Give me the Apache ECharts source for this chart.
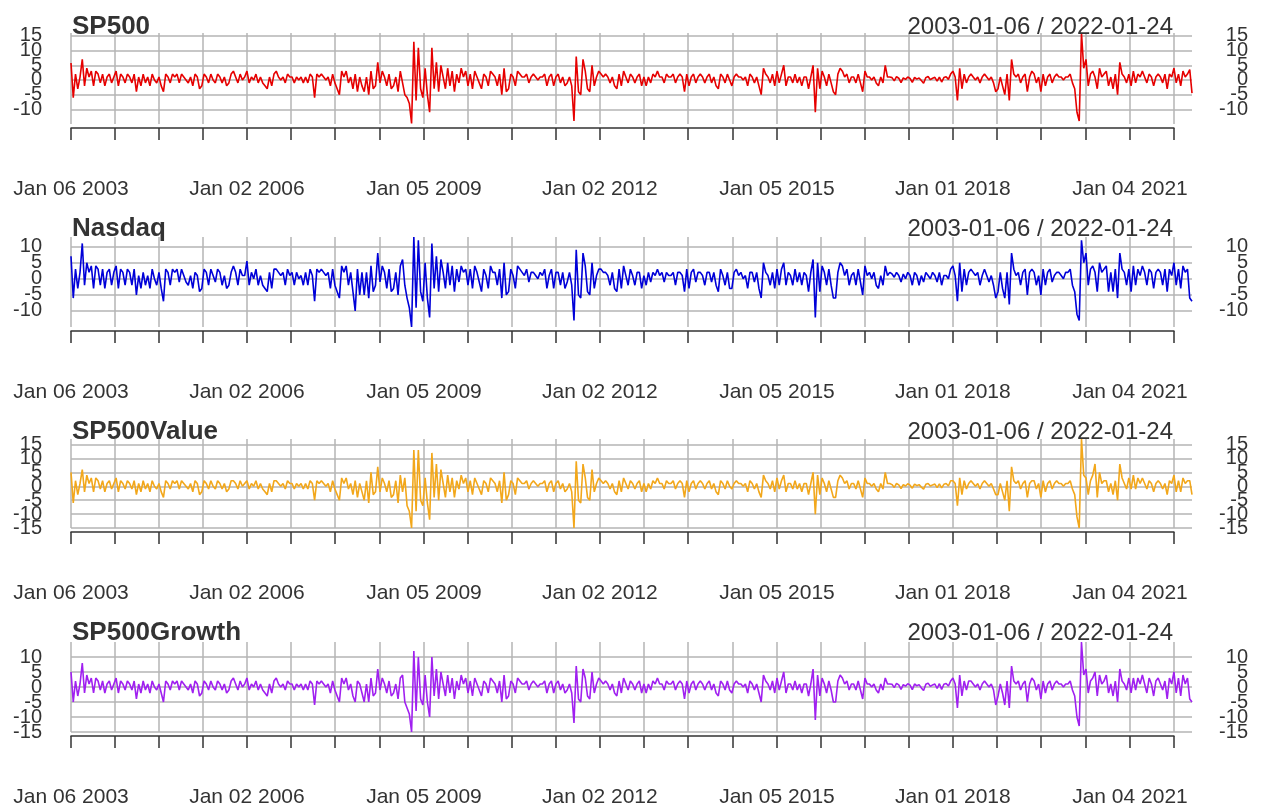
<!DOCTYPE html>
<html>
<head>
<meta charset="utf-8">
<script src="https://cdn.jsdelivr.net/npm/echarts@6/dist/echarts.min.js"></script>
<style>html,body{margin:0;padding:0;background:#fff}#chart{width:1265px;height:808px}</style>
</head>
<body>
<div id="chart"></div>
<script>
// ---------------- data ----------------
const startDate = '2003-01-06';
const endDate = '2022-01-24';
const stepWeeks = 2; // one value every two weeks
const seriesNames = ['SP500', 'Nasdaq', 'SP500Value', 'SP500Growth'];

const sp500 = [
 5.8,-6,2,-3,1,7,-2,4,1,3,-2,3,2,-1,2,-2,1,2,-1,1,3,-2,2,1,-1,2,
 1,-1,2,-4,1,-2,2,-1,1,-2,2,0,-1,1,-2,-4,2,1,-1,2,1,2,-1,2,1,0,
 -1,1,-2,2,1,-3,-2,2,1,-1,2,0,-1,2,1,-1,1,-2,-1,2,3,1,-1,2,0,1,
 3,-1,1,0,2,-1,1,-1,-2,-3,1,-2,2,3,1,0,1,-1,2,1,1,-1,1,0,1,-1,
 1,-1,2,1,-6,2,1,2,1,0,1,-2,2,-1,-3,-5,3,1,3,-1,1,-3,2,-4,1,-2,
 -4,1,-5,3,-3,-2,6,-1,3,1,-2,2,-3,-2,1,-4,3,-1,-5,-6,-8,-14.8,13,-7,11,-3,
 -6,4,-5,-11,11,-3,6,-4,5,1,-3,4,-2,3,-4,2,-1,4,1,3,-2,2,-3,3,1,-1,
 -3,2,1,-2,3,2,1,-2,2,-5,4,-4,-3,2,1,-2,3,2,1,1,2,-1,1,2,1,0,
 1,1,2,-2,1,2,-2,1,2,-1,1,-2,-1,1,-2,-14,8,-4,-5,7,3,-3,-4,5,-2,1,
 3,2,1,2,1,-1,1,-2,-3,2,-2,3,1,-1,2,1,-1,1,2,-2,1,-2,1,-1,2,1,
 3,1,1,-1,2,1,1,2,-1,1,2,1,-4,2,-2,1,2,-1,1,2,1,-1,1,2,-1,1,
 -2,-3,2,1,-1,2,0,-2,1,2,1,1,0,1,-2,2,1,-1,1,-2,-5,4,2,1,-1,2,
 -2,3,-1,2,5,-2,1,1,-1,2,-1,1,-2,1,1,-3,1,5,-11,4,-3,3,1,-2,2,-1,
 -4,-5,2,4,3,1,2,-1,1,1,-1,2,-1,-4,3,1,1,0,1,-1,-2,1,-1,5,1,1,
 0.8,-0.3,1.1,0.6,-0.9,0.7,0.2,1,0.5,-0.8,0.9,0.3,0.7,-0.2,-1.1,0.8,1.2,0.1,0.6,0.9,-0.4,1,-0.7,0.8,1.1,0.2,
 2,3,1,-7,4,-3,2,-1,1,2,1,0,1,-1,1,2,1,0,1,-1,-4,-3,1,-2,-5,2,
 -7,7,2,1,2,-1,1,2,-4,1,3,2,-1,1,-4,2,-2,1,2,-1,1,2,1,1,0,1,
 1,2,-1,-3,-11,-14,16,4,7,-2,2,3,1,-3,4,1,2,3,-2,1,-3,2,-5,6,2,1,
 -1,2,-2,3,-1,2,1,3,1,-1,2,1,-2,1,2,1,-1,2,-3,2,1,4,-1,2,-2,3,1,2,3.5,-4.5
];

const nasdaq = [
 7,-6,3,-3,2,11,-2,5,2,4,-3,4,3,-2,3,-3,2,3,-2,2,4,-3,3,2,-2,3,
 2,-2,3,-5,1,-3,2,-2,1,-3,3,0,-2,2,-3,-7,3,2,-2,3,2,3,-1,3,1,-1,
 -2,1,-3,2,1,-4,-3,3,2,-2,3,1,-1,3,2,-2,1,-3,-2,2,4,2,-2,3,1,1,
 5.5,-2,2,0,3,-2,1,-2,-3,-4,2,-3,3,3,2,1,2,-2,3,1,2,-2,2,0,1,-2,
 2,-2,3,1,-7,3,2,3,2,1,2,-3,3,-2,-4,-6,4,2,4,-2,2,-4,-10,3,-5,2,
 -5,2,-6,4,-4,-2,8,-1,4,2,-3,3,-4,-3,2,-5,4,6,-2,-6,-9,-15,13,-9,12,-4,
 -7,5,-6,-12,11,-3,7,-4,6,2,-3,5,-2,4,-4,3,-1,4,2,3,-2,3,-3,4,2,-1,
 -4,3,1,-3,4,2,2,-2,3,-6,5,-5,-4,3,1,-3,4,3,2,1,3,-1,2,2,1,0,
 2,1,3,-3,1,3,-3,2,2,-2,2,-3,-1,2,-2,-13,9,-5,-6,8,4,-4,-5,5,-3,1,
 3,3,2,2,1,-2,2,-3,-4,3,-3,4,1,-2,3,1,-2,2,2,-3,1,-2,2,-1,2,1,
 3,1,2,-1,2,1,1,2,-2,2,2,1,-4,3,-3,2,3,-1,2,2,1,-2,2,2,-1,2,
 -2,-4,3,1,-2,2,-3,-3,2,3,1,2,0,1,-3,2,2,-1,2,-3,-6,5,2,1,-2,2,
 -3,3,-2,3,5,-2,2,1,-2,3,-1,2,-2,2,1,-4,2,6,-12,5,-4,4,2,-2,3,-2,
 -6,-6,2,5,4,1,3,-2,1,2,-2,3,-1,-5,4,1,2,0,2,-2,-3,1,-2,4,1,2,
 1.5,0.5,2,1,-1,1.5,0,2,1,-2,2,1,-2,1,-1,2,1,0,2,1,-1,2,-2,1,1,0,
 3,4,1,-7,5,-4,3,-2,2,3,2,1,2,-2,1,3,1,-1,1,-2,-6,-4,2,-3,-6,2,
 -8,8,3,1,2,-2,2,3,-5,2,3,2,-2,1,-5,3,-2,2,3,-1,1,2,2,1,0,2,
 2,3,-2,-4,-11,-13,12,5,8,-2,3,4,2,-4,5,2,3,4,-4,2,-4,3,-6,8,3,2,
 -2,3,-4,4,-2,3,1,4,2,-2,3,2,-3,2,3,2,-2,3,-4,3,1,5,-2,3,-3,4,2,3,-6,-7
];

const sp500Value = [
 5,-6,2,-3,1,6,-2,4,1,3,-2,3,2,-1,2,-2,1,2,-1,1,3,-2,2,1,-1,2,
 1,-1,2,-3,1,-2,2,-1,1,-2,2,0,-1,1,-2,-4,2,1,-1,2,1,2,-1,2,1,0,
 -1,1,-2,2,1,-3,-2,2,1,-1,2,0,-1,2,1,-1,1,-2,-1,2,2,1,-1,2,0,1,
 2,-1,1,0,2,-1,1,-1,-2,-3,1,-2,2,2,1,0,1,-1,2,1,1,-1,1,0,1,-1,
 1,-1,2,1,-5,2,1,2,1,0,1,-2,2,-1,-3,-5,3,1,3,-1,1,-3,2,-4,1,-2,
 -5,2,-6,5,-3,-2,7,-2,3,1,-2,2,-4,-3,2,-6,4,-2,3,-7,-9,-15,13,-9,13,-5,
 -7,3,-6,-12,12,-4,8,-5,6,1,-4,4,-2,3,-4,2,-1,4,1,3,-2,2,-3,3,1,-1,
 -3,2,1,-2,3,2,1,-2,2,-6,5,-5,-3,2,1,-3,3,2,1,1,2,-1,1,2,1,0,
 1,1,2,-2,1,2,-2,1,2,-1,1,-2,-1,1,-2,-15,9,-5,-6,8,3,-4,-5,6,-2,1,
 3,2,1,2,1,-1,1,-2,-3,2,-2,3,1,-1,2,1,-1,1,2,-2,1,-2,1,-1,2,1,
 3,1,1,-1,2,1,1,2,-1,1,2,1,-4,2,-2,1,2,-1,1,2,1,-1,1,2,-1,1,
 -2,-3,2,1,-1,2,0,-1,1,2,1,1,0,1,-2,2,1,-1,1,-2,-4,4,2,1,-1,2,
 -2,3,-1,2,4,-2,1,1,-1,2,-1,1,-2,1,1,-3,1,5,-10,4,-3,3,1,-2,2,-1,
 -4,-4,2,4,3,1,2,-1,1,1,-1,2,-1,-4,3,1,1,0,1,-1,-2,1,-1,5,1,1,
 0.6,-0.4,1,0.5,-0.8,0.6,0.1,0.9,0.4,-0.7,0.8,0.2,0.6,-0.3,-1,0.7,1,0.1,0.5,0.8,-0.5,0.9,-0.6,0.7,1,0.1,
 2,2,1,-7,3,-3,2,-1,1,2,1,0,1,-1,1,2,1,0,1,-1,-3,-3,1,-2,-5,2,
 -9,7,2,1,2,-1,1,2,-4,1,2,2,-1,1,-4,2,-2,1,2,-1,1,2,1,1,0,1,
 1,2,-1,-3,-11,-15,17,4,3,-3,2,4,8,-4,5,1,2,2,-2,1,-3,2,-5,8,3,1,
 -1,3,-1,4,-1,3,1,3,1,-1,2,1,-2,1,2,1,-1,1,-3,2,1,4,-2,2,-2,3,1,2,2,-3
];

const sp500Growth = [
 5,-5,2,-3,1,8,-2,4,1,3,-2,3,2,-1,2,-2,1,2,-1,1,3,-2,2,1,-1,2,
 1,-1,2,-4,1,-2,2,-1,1,-2,2,0,-1,1,-2,-5,2,1,-1,2,1,2,-1,2,1,0,
 -1,1,-2,2,1,-3,-2,2,1,-1,2,0,-1,2,1,-1,1,-2,-1,2,3,1,-1,2,0,1,
 3,-1,1,0,2,-1,1,-1,-2,-3,1,-2,2,3,1,0,1,-1,2,1,1,-1,1,0,1,-1,
 1,-1,2,1,-6,2,1,2,1,0,1,-2,2,-1,-3,-5,3,1,3,-1,1,-3,-5,2,1,-2,
 -5,1,-5,3,-3,-2,6,-1,3,1,-2,2,-3,-2,1,-4,3,4,-5,-7,-9,-15,12,-8,10,-4,
 -6,4,-5,-10,10,-3,6,-4,5,1,-3,4,-2,3,-4,2,-1,4,1,3,-2,2,-3,3,1,-1,
 -3,2,1,-2,3,2,1,-2,2,-5,4,-4,-3,2,1,-2,3,2,1,1,2,-1,1,2,1,0,
 1,1,2,-2,1,2,-2,1,2,-1,1,-2,-1,1,-2,-12,7,-4,-5,6,3,-3,-4,5,-2,1,
 3,2,1,2,1,-1,1,-2,-3,2,-2,3,1,-1,2,1,-1,1,2,-2,1,-2,1,-1,2,1,
 3,1,1,-1,2,1,1,2,-1,1,2,1,-4,2,-2,1,2,-1,1,2,1,-1,1,2,-1,1,
 -2,-3,2,1,-1,2,-1,-2,1,2,1,1,0,1,-2,2,1,-1,1,-2,-5,4,2,1,-1,2,
 -2,3,-1,2,5,-2,1,1,-1,2,-1,1,-2,1,1,-3,1,6,-11,4,-3,3,1,-2,2,-1,
 -5,-5,2,4,3,1,2,-1,1,1,-1,2,-1,-4,3,1,1,0,1,-1,-2,1,-1,3,1,1,
 0.9,-0.2,1.2,0.7,-0.8,0.8,0.3,1.1,0.6,-0.9,1,0.4,0.8,-0.3,-1.2,0.9,1.3,0.2,0.7,1,-0.5,1.1,-0.8,0.9,1.2,0.3,
 2,3,1,-7,4,-3,2,-1,2,2,1,0,1,-1,1,2,1,0,1,-1,-6,-3,1,-2,-6,2,
 -7,7,2,1,2,-1,1,2,-5,1,3,2,-1,1,-4,2,-2,1,2,-1,1,2,1,1,0,1,
 1,2,-1,-3,-10,-13,15,4,6,-2,2,3,5,-3,4,1,2,4,-2,1,-3,2,-5,6,2,1,
 -1,3,-2,3,-1,3,1,4,1,-2,3,1,-3,2,3,1,-1,2,-4,3,1,5,-2,3,-3,4,1,3,-4,-5
];

// x-axis ticks (xts picks one every nine months) and the labelled ones
const tickDates = ['2003-01-06','2003-10-06','2004-07-05','2005-04-04','2006-01-02','2006-10-02','2007-07-02',
  '2008-04-07','2009-01-05','2009-10-05','2010-07-05','2011-04-04','2012-01-02','2012-10-01','2013-07-01',
  '2014-04-07','2015-01-05','2015-10-05','2016-07-04','2017-04-03','2018-01-01','2018-10-01','2019-07-01',
  '2020-04-06','2021-01-04','2021-10-04'];
const labelDates = ['2003-01-06','2006-01-02','2009-01-05','2012-01-02','2015-01-05','2018-01-01','2021-01-04'];
const labelTexts = ['Jan 06 2003','Jan 02 2006','Jan 05 2009','Jan 02 2012','Jan 05 2015','Jan 01 2018','Jan 04 2021'];

// y extents of each panel
const yMin = [-15, -15, -15, -15];
const yMax = [16, 13, 17, 15];
const yStep = 5;
// panels whose lowest tick (the minimum) is labelled
const minLabelled = [false, false, true, true];

// ---------------- layout ----------------
const allValues = [sp500, nasdaq, sp500Value, sp500Growth];
const colors = ['#e60000', '#0000d8', '#f2a71b', '#a020f0'];
const panelTop = [33, 237, 439, 642];
const panelH = [91, 90, 89, 90];
const titleMid = [27, 229, 432, 633];
const plotLeft = 71, plotW = 1121;
const FONT = 'Liberation Sans, Arial, sans-serif';
const TXT = '#333333';
const GRIDC = '#b4b4b4';

function weekOf(s) {
  const a = s.split('-').map(Number), b = startDate.split('-').map(Number);
  return Math.round((Date.UTC(a[0], a[1] - 1, a[2]) - Date.UTC(b[0], b[1] - 1, b[2])) / (7 * 86400000));
}
const maxWeek = weekOf(endDate);
const tickWeeks = tickDates.map(weekOf);
const labelWeeks = labelDates.map(weekOf);
const lastTick = tickWeeks[tickWeeks.length - 1];

const grid = [], xAxis = [], yAxis = [], series = [], title = [];
seriesNames.forEach((name, i) => {
  const T = panelTop[i], H = panelH[i];
  const gPlot = grid.length;
  grid.push({ left: plotLeft, top: T, width: plotW, height: H });
  const gAx = grid.length;
  grid.push({ left: plotLeft, top: T + H + 3, width: plotW * lastTick / maxWeek, height: 1 });

  const xPlot = xAxis.length;
  xAxis.push({
    type: 'value', gridIndex: gPlot, min: 0, max: maxWeek,
    axisLine: { show: false },
    axisTick: { show: false, customValues: tickWeeks },
    axisLabel: { show: false },
    splitLine: { show: true, lineStyle: { color: GRIDC, width: 1.5 } }
  });
  xAxis.push({
    type: 'value', gridIndex: gAx, min: 0, max: lastTick,
    axisLine: { show: true, lineStyle: { color: TXT, width: 1.5 } },
    axisTick: { show: true, customValues: tickWeeks, length: 12, lineStyle: { color: TXT, width: 1.5 } },
    axisLabel: {
      show: true, customValues: labelWeeks, margin: 51, fontSize: 21, color: TXT, fontFamily: FONT,
      hideOverlap: false,
      formatter: v => labelTexts[labelWeeks.indexOf(v)]
    },
    splitLine: { show: false }
  });

  const yLeft = yAxis.length;
  const yCommon = {
    type: 'value', gridIndex: gPlot, min: yMin[i], max: yMax[i], interval: yStep,
    axisLine: { show: false }, axisTick: { show: false }
  };
  const lab = { fontSize: 20, color: TXT, fontFamily: FONT, hideOverlap: false };
  // main axes: every tick label except the min / max ends
  yAxis.push(Object.assign({}, yCommon, {
    position: 'left',
    axisLabel: Object.assign({ margin: 29, showMinLabel: false, showMaxLabel: false }, lab),
    splitLine: { show: true, showMinLine: minLabelled[i], showMaxLine: false,
      lineStyle: { color: GRIDC, width: 1.5 } }
  }));
  yAxis.push(Object.assign({}, yCommon, {
    position: 'right',
    axisLabel: Object.assign({ margin: 56, align: 'right', showMinLabel: false, showMaxLabel: false }, lab),
    splitLine: { show: false }
  }));
  // extra axes carrying only the bottom label where R draws it
  if (minLabelled[i]) {
    yAxis.push(Object.assign({}, yCommon, {
      position: 'left',
      axisLabel: Object.assign({ margin: 29, customValues: [yMin[i]] }, lab),
      splitLine: { show: false }
    }));
    yAxis.push(Object.assign({}, yCommon, {
      position: 'right',
      axisLabel: Object.assign({ margin: 56, align: 'right', customValues: [yMin[i]] }, lab),
      splitLine: { show: false }
    }));
  }
  yAxis.push({ type: 'value', gridIndex: gAx, show: false, min: 0, max: 1 });

  series.push({
    type: 'line', name: name, xAxisIndex: xPlot, yAxisIndex: yLeft,
    data: allValues[i].map((v, k) => [k * stepWeeks, v]),
    showSymbol: false, symbol: 'none', silent: true, animation: false,
    lineStyle: { color: colors[i], width: 1.6 }, itemStyle: { color: colors[i] }
  });

  title.push({
    text: name, left: 72, top: titleMid[i] - 13, padding: 0,
    textStyle: { fontSize: 26, fontWeight: 'bold', color: TXT, fontFamily: FONT, lineHeight: 26 }
  });
  title.push({
    text: startDate + ' / ' + endDate, right: 92, top: titleMid[i] - 13, padding: 0,
    textStyle: { fontSize: 24, fontWeight: 'normal', color: TXT, fontFamily: FONT, lineHeight: 26 }
  });
});

const chart = echarts.init(document.getElementById('chart'), null, { renderer: 'canvas' });
chart.setOption({
  backgroundColor: '#ffffff',
  animation: false,
  title, grid, xAxis, yAxis, series
});
</script>
</body>
</html>
